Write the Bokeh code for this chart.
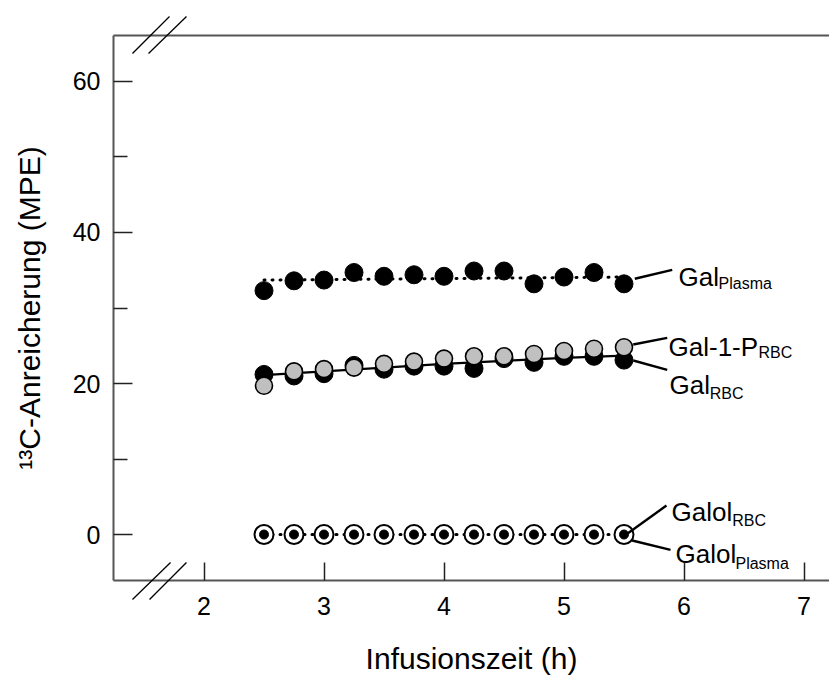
from bokeh.plotting import figure
from bokeh.models import Range1d, LinearAxis, FixedTicker
from bokeh.core.properties import value
from bokeh.embed import file_html
from bokeh.resources import INLINE

# ---- data ----
time_h = [2.5, 2.75, 3.0, 3.25, 3.5, 3.75, 4.0, 4.25, 4.5, 4.75, 5.0, 5.25, 5.5]
gal_plasma = [32.3, 33.6, 33.7, 34.7, 34.2, 34.4, 34.2, 34.9, 34.9, 33.2, 34.1, 34.7, 33.2]
gal_rbc = [21.2, 21.0, 21.3, 22.4, 21.9, 22.3, 22.3, 22.0, 23.3, 22.8, 23.6, 23.6, 23.1]
gal1p_rbc = [19.7, 21.6, 21.9, 22.1, 22.6, 22.9, 23.3, 23.6, 23.6, 23.9, 24.3, 24.6, 24.8]
galol_rbc = [0, 0, 0, 0, 0, 0, 0, 0, 0, 0, 0, 0, 0]
galol_plasma = [0, 0, 0, 0, 0, 0, 0, 0, 0, 0, 0, 0, 0]

plasma_fit_x = [2.5, 5.5]
plasma_fit_y = [33.7, 34.1]
rbc_fit_x = [2.5, 3.0, 3.5, 4.0, 4.5, 5.0, 5.5]
rbc_fit_y = [21.1, 21.6, 22.1, 22.6, 23.0, 23.4, 23.7]
galol_fit_x = [2.5, 5.5]
galol_fit_y = [0, 0]

x_ticks = [2, 3, 4, 5, 6, 7]
y_major = [0, 20, 40, 60]
x_title = "Infusionszeit (h)"
y_title = "\u00b9\u00b3C-Anreicherung (MPE)"

label_main = ["Gal", "Gal-1-P", "Gal", "Galol", "Galol"]
label_sub = ["Plasma", "RBC", "RBC", "RBC", "Plasma"]
main_x = [5.955, 5.871, 5.879, 5.896, 5.929]
main_y = [34.17, 24.81, 19.74, 2.95, -2.56]
sub_x = [6.2875, 6.621, 6.215, 6.402, 6.429]
sub_y = [33.18, 24.15, 18.72, 1.85, -3.88]
leader_x0 = [5.590, 5.577, 5.577, 5.527, 5.568]
leader_y0 = [33.87, 25.17, 23.05, 0.09, -0.79]
leader_x1 = [5.902, 5.860, 5.860, 5.854, 5.888]
leader_y1 = [35.06, 26.05, 21.81, 3.84, -2.03]

# axis-break marks (data units)
brk_x0 = [1.404, 1.5375, 1.404, 1.546]
brk_y0 = [63.71, 63.71, -8.61, -8.61]
brk_x1 = [1.7125, 1.854, 1.721, 1.854]
brk_y1 = [68.61, 68.61, -3.71, -3.71]

FONT = "Liberation Sans"
SPINE = "#555555"

p = figure(width=829, height=677,
           x_range=Range1d(1.2458, 7.2125), y_range=Range1d(-6.09, 66.09),
           min_border_left=113, min_border_right=0, min_border_top=35,
           min_border_bottom=97, toolbar_location=None, output_backend="svg",
           outline_line_color=None, background_fill_color="white",
           border_fill_color="white")
p.grid.visible = False

# x axis
xa = p.xaxis[0]
xa.ticker = FixedTicker(ticks=x_ticks)
xa.axis_label = x_title
xa.axis_label_text_font = FONT
xa.axis_label_text_font_size = "30px"
xa.axis_label_text_font_style = "normal"
xa.axis_label_text_color = "black"
xa.axis_label_standoff = 24
xa.major_label_text_font = FONT
xa.major_label_text_font_size = "25px"
xa.major_label_text_color = "black"
xa.major_label_standoff = 16
xa.major_tick_in = 18
xa.major_tick_out = 0
xa.minor_tick_line_color = None
xa.major_tick_line_color = "#222222"
xa.major_tick_line_width = 1.5
xa.axis_line_color = SPINE
xa.axis_line_width = 2

# y axis
ya = p.yaxis[0]
ya.ticker = FixedTicker(ticks=y_major, minor_ticks=[10, 30, 50])
ya.axis_label = y_title
ya.axis_label_text_font = FONT
ya.axis_label_text_font_size = "30px"
ya.axis_label_text_font_style = "normal"
ya.axis_label_text_color = "black"
ya.axis_label_standoff = 24
ya.major_label_text_font = FONT
ya.major_label_text_font_size = "25px"
ya.major_label_text_color = "black"
ya.major_label_standoff = 13
ya.major_tick_in = 19
ya.major_tick_out = 0
ya.minor_tick_in = 14
ya.minor_tick_out = 0
ya.major_tick_line_color = "#222222"
ya.minor_tick_line_color = "#222222"
ya.major_tick_line_width = 1.5
ya.minor_tick_line_width = 1.5
ya.axis_line_color = SPINE
ya.axis_line_width = 2

# top line
top = LinearAxis(ticker=FixedTicker(ticks=[]), major_tick_line_color=None,
                 minor_tick_line_color=None, axis_line_color=SPINE,
                 axis_line_width=2, major_label_text_font_size="0px")
p.add_layout(top, "above")

# Gal plasma
p.line(plasma_fit_x, plasma_fit_y, line_color="black", line_width=3,
       line_dash="1 7", line_cap="round")
p.scatter(time_h, gal_plasma, size=18, fill_color="black", line_color="black")

# RBC
p.line(rbc_fit_x, rbc_fit_y, line_color="black", line_width=2.2)
p.scatter(time_h, gal_rbc, size=18, fill_color="black", line_color="black")
p.scatter(time_h, gal1p_rbc, size=17, fill_color="#c0c0c0", line_color="black",
          line_width=1.6)

# Galol
p.line(galol_fit_x, galol_fit_y, line_color="black", line_width=3,
       line_dash="1 7", line_cap="round")
p.scatter(time_h, galol_plasma, size=19, fill_color="white", line_color="black",
          line_width=2)
p.scatter(time_h, galol_rbc, size=9, fill_color="black", line_color="black")

# leader lines and labels
p.segment(leader_x0, leader_y0, leader_x1, leader_y1, line_color="black",
          line_width=2.4)
p.text(main_x, main_y, text=label_main, text_font=value(FONT),
       text_font_size="26px", text_align="left", text_baseline="alphabetic",
       text_color="black")
p.text(sub_x, sub_y, text=label_sub, text_font=value(FONT),
       text_font_size="16px", text_align="left", text_baseline="alphabetic",
       text_color="black")

# axis break marks
p.segment(brk_x0, brk_y0, brk_x1, brk_y1, line_color="black", line_width=1.3,
          level="overlay")

open("out.html", "w").write(file_html(p, INLINE))
